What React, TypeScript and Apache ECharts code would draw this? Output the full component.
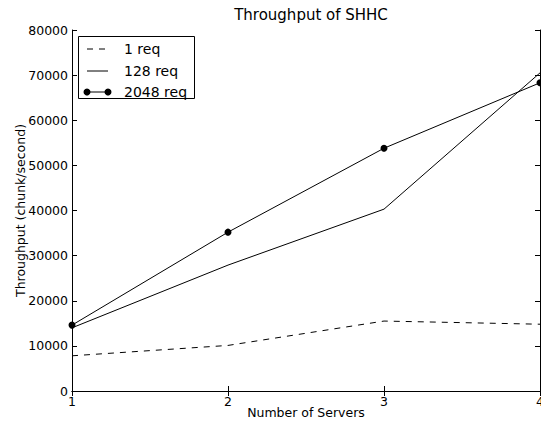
import React, { useEffect, useRef } from "react";
import * as echarts from "echarts";

const servers = [1, 2, 3, 4];
const req1 = [7800, 10100, 15500, 14800];
const req128 = [14000, 27900, 40300, 70500];
const req2048 = [14600, 35200, 53800, 68300];
const yTicks = [0, 10000, 20000, 30000, 40000, 50000, 60000, 70000, 80000];
const legendNames = ["1 req", "128 req", "2048 req"];

const FONT = "DejaVu Sans";

export default function App() {
  const ref = useRef<HTMLDivElement>(null);
  useEffect(() => {
    if (!ref.current) return;
    const chart = echarts.init(ref.current, null, { renderer: "svg" });
    const axisLine = { show: true, lineStyle: { color: "#000", width: 1 } };
    const tick = { show: true, inside: true, length: 5, lineStyle: { color: "#000" } };
    const lx = 78, ly = 36, lw = 116, lh = 62;
    const rowY = [49, 71, 92];
    chart.setOption({
      animation: false,
      backgroundColor: "#fff",
      title: {
        text: "Throughput of SHHC",
        left: 306,
        top: 2,
        textAlign: "center",
        textStyle: { fontFamily: FONT, fontSize: 15, fontWeight: "normal", color: "#000" },
      },
      graphic: [
        {
          type: "rect",
          shape: { x: lx + 0.5, y: ly + 0.5, width: lw, height: lh },
          style: { fill: "#fff", stroke: "#000", lineWidth: 1 },
          z: 100,
        },
        {
          type: "line",
          shape: { x1: 87, y1: rowY[0], x2: 108, y2: rowY[0] },
          style: { stroke: "#000", lineWidth: 1, lineDash: [6, 6] },
          z: 101,
        },
        {
          type: "line",
          shape: { x1: 87, y1: rowY[1], x2: 108, y2: rowY[1] },
          style: { stroke: "#000", lineWidth: 1 },
          z: 101,
        },
        {
          type: "line",
          shape: { x1: 87, y1: rowY[2], x2: 108, y2: rowY[2] },
          style: { stroke: "#000", lineWidth: 1 },
          z: 101,
        },
        { type: "circle", shape: { cx: 87, cy: rowY[2], r: 3.5 }, style: { fill: "#000" }, z: 102 },
        { type: "circle", shape: { cx: 108, cy: rowY[2], r: 3.5 }, style: { fill: "#000" }, z: 102 },
        ...legendNames.map((n, i) => ({
          type: "text",
          x: 124,
          y: rowY[i],
          style: {
            text: n,
            fontFamily: FONT,
            fontSize: 14,
            fill: "#000",
            textVerticalAlign: "middle",
            verticalAlign: "middle",
          },
          z: 102,
        })),
      ],
      grid: { left: 72, right: 1, top: 30, bottom: 30, outerBoundsMode: "none", containLabel: false },
      xAxis: [
        {
          type: "value",
          min: servers[0],
          max: servers[servers.length - 1],
          interval: 1,
          name: "Number of Servers",
          nameLocation: "middle",
          nameGap: 15,
          nameMoveOverlap: false,
          nameTextStyle: { fontFamily: FONT, fontSize: 12.5, color: "#000" },
          axisLine,
          axisTick: tick,
          splitLine: { show: false },
          axisLabel: { fontFamily: FONT, fontSize: 12.5, color: "#000", margin: 4 },
        },
        {
          type: "value",
          position: "top",
          min: 1,
          max: 4,
          interval: 1,
          axisLine,
          axisTick: tick,
          splitLine: { show: false },
          axisLabel: { show: false },
        },
      ],
      yAxis: [
        {
          type: "value",
          min: yTicks[0],
          max: yTicks[yTicks.length - 1],
          interval: 10000,
          name: "Throughput (chunk/second)",
          nameLocation: "middle",
          nameGap: 45,
          nameMoveOverlap: false,
          nameTextStyle: { fontFamily: FONT, fontSize: 12.5, color: "#000" },
          axisLine,
          axisTick: tick,
          splitLine: { show: false },
          axisLabel: {
            fontFamily: FONT,
            fontSize: 12.5,
            color: "#000",
            margin: 4,
            formatter: (v: number) => String(v),
          },
        },
        {
          type: "value",
          position: "right",
          min: 0,
          max: 80000,
          interval: 10000,
          axisLine,
          axisTick: tick,
          splitLine: { show: false },
          axisLabel: { show: false },
        },
      ],
      series: [
        {
          name: legendNames[0],
          type: "line",
          data: servers.map((s, i) => [s, req1[i]]),
          symbol: "none",
          lineStyle: { color: "#000", width: 1, type: [6, 6] },
          itemStyle: { color: "#000" },
        },
        {
          name: legendNames[1],
          type: "line",
          data: servers.map((s, i) => [s, req128[i]]),
          symbol: "none",
          lineStyle: { color: "#000", width: 1 },
          itemStyle: { color: "#000" },
        },
        {
          name: legendNames[2],
          type: "line",
          data: servers.map((s, i) => [s, req2048[i]]),
          symbol: "circle",
          symbolSize: 7,
          lineStyle: { color: "#000", width: 1 },
          itemStyle: { color: "#000" },
        },
      ],
    });
    return () => chart.dispose();
  }, []);
  return (
    <div
      ref={ref}
      style={{ position: "fixed", left: 0, top: 0, width: 541, height: 421 }}
    />
  );
}
